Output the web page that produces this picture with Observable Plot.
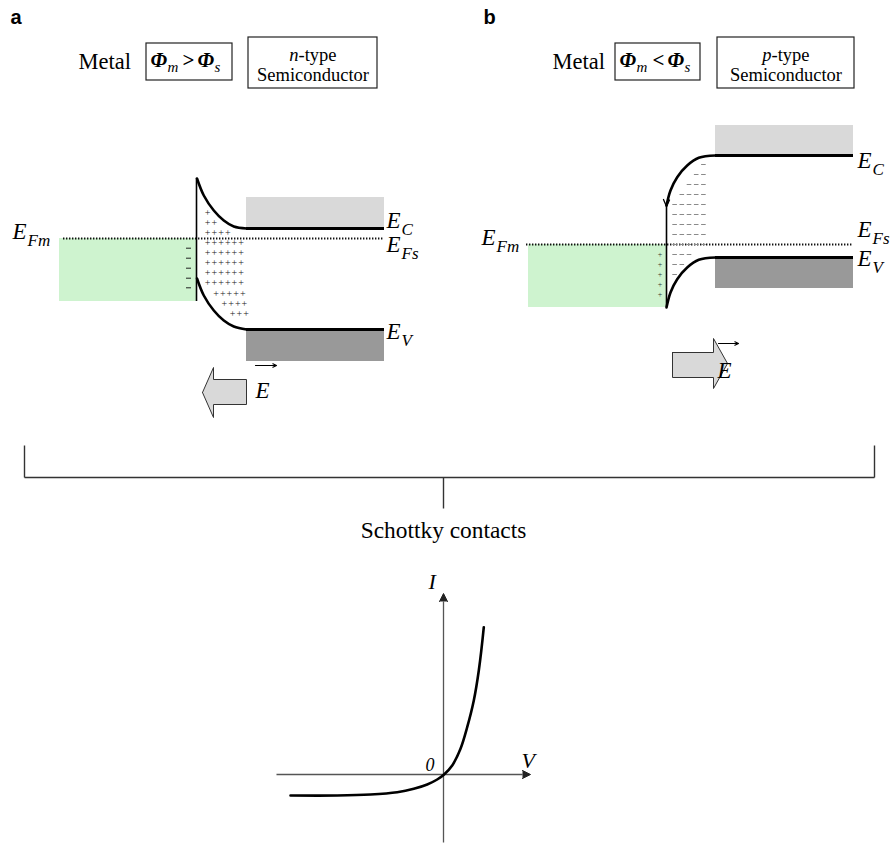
<!DOCTYPE html>
<html><head><meta charset="utf-8">
<script src="https://cdn.jsdelivr.net/npm/d3@7"></script>
<script src="https://cdn.jsdelivr.net/npm/@observablehq/plot@0.6"></script>
<style>body{margin:0;background:#fff} svg{display:block}</style>
</head><body><div id="chart"></div>
<script>
// ---------- data (diagram coordinates) ----------
const metalBands = [{x1:59,x2:196,y1:238,y2:301},{x1:528,x2:666,y1:244,y2:307}];
const conductionBands = [{x1:246,x2:384,y1:197,y2:228},{x1:715,x2:853,y1:125,y2:155}];
const valenceBands = [{x1:246,x2:384,y1:329,y2:361},{x1:715,x2:853,y1:257,y2:288}];
const fermiLevels = [{x1:63,x2:384,y:238},{x1:526,x2:853,y:244}];
const bandEdges = [{x1:246,x2:384,y:228},{x1:246,x2:384,y:329},{x1:715,x2:853,y:155},{x1:715,x2:853,y:257}];
const interfaces = [{x:196,y1:178,y2:301},{x:666,y1:205,y2:307}];

const curveA_C = [[196.5,178],[203.3,195],[213.3,210],[223.3,220],[233.3,226],[246,228]];
const curveA_V = [[196.5,278],[203.3,295],[213.3,310],[223.3,320],[233.3,326],[246,329]];
const curveB_C = [[666,205],[670,190],[676.7,176.7],[686.7,165],[698.3,157.3],[715,155]];
const curveB_V = [[666,307],[670,292],[676.7,278.7],[686.7,267],[698.3,259.3],[715,257]];
const hookB = [[663,199],[666,206],[669,199.5]];

// space charge, panel a (+ donors) : row y, first x, count
const plusRowY_A = [212.7,222.7,232.3,242.7,252.7,262.7,272.7,282.7,293.3,303.3,313.3];
const plusRowX_A = [204.3,204.3,204.3,204.3,204.3,204.3,204.3,204.3,212.7,221,229.3];
const plusRowN_A = [1,2,4,6,6,6,6,6,5,4,3];
const minusY_A = [247.7,257.7,267.7,277.7,287.3];
// space charge, panel b (- acceptors)
const dashRowY_B = [164,174,184,194,204,214,224,234,244,254,264,274];
const dashRowX_B = [701.1,693.9,686.7,679.5,672.3,672.3,672.3,672.3,672.3,672.3,672.3,672.3];
const dashRowN_B = [1,2,3,4,5,5,5,5,5,3,2,1];
const plusY_B = [254,264,274,284,294];

// block arrows for the field
const fieldArrowA = [[202,392],[213,367],[213,379],[246,379],[246,404],[213,404],[213,417],[202,392]];
const fieldArrowB = [[672,352],[713,352],[713,338],[727,363],[713,388],[713,377],[672,377],[672,352]];
const vecArrows = [{x1:255,x2:276,y:365},{x1:718,x2:738,y:343}];

// bracket
const bracket = [
  {x1:24,y1:445,x2:24,y2:477},{x1:874,y1:445,x2:874,y2:477},
  {x1:24,y1:477,x2:874,y2:477},{x1:443,y1:477,x2:443,y2:508}
];

// I-V characteristic
const ivCurve = [[290,795],[336.7,795],[370,794],[396.7,791.7],[413.3,788.3],[426.7,784],[436.7,779],
  [443.3,774.3],[451.7,765],[460,748.3],[466.7,726.7],[473.3,700],[478.3,670],[483.3,626.7]];
const axes = [{x1:276,y1:774,x2:522,y2:774},{x1:443,y1:842,x2:443,y2:601}];
const axisHeads = [
  {id:"v",x:522,y:770},{id:"v",x:530,y:774},{id:"v",x:522,y:778},
  {id:"i",x:439,y:601},{id:"i",x:443,y:593},{id:"i",x:447,y:601}
];

// text
const panelLetters = [{x:10,y:23,t:"a"},{x:483,y:23,t:"b"}];
const metalLabels = [{x:78,y:68},{x:552,y:68}];
const typeLetters = [{x:298,y:60,t:"n"},{x:771,y:60,t:"p"}];
const semiLabels = [{x:312.5,y:80},{x:785.5,y:80}];
const phiMain = [{x:150,y:66,t:"Φ"},{x:197,y:66,t:"Φ"},{x:619,y:66,t:"Φ"},{x:667,y:66,t:"Φ"}];
const phiOps = [{x:182,y:66,t:">"},{x:652,y:66,t:"<"}];
const phiSubs = [{x:167,y:71,t:"m"},{x:214,y:71,t:"s"},{x:636,y:71,t:"m"},{x:684,y:71,t:"s"}];
const energyLabels = [
  {x:12,y:238,sub:"Fm"},{x:386,y:227,sub:"C"},{x:386,y:251,sub:"Fs"},{x:386,y:338,sub:"V"},
  {x:481,y:244,sub:"Fm"},{x:857,y:167,sub:"C"},{x:857,y:236,sub:"Fs"},{x:857,y:265,sub:"V"}
];
const fieldLabels = [{x:255,y:397,t:"E"},{x:717,y:377,t:"E"}];
const ivLabels = [{x:428,y:588,t:"I"},{x:521,y:767,t:"V"}];
const originLabel = [{x:425,y:770,t:"0"}];
const caption = [{x:443,y:537,t:"Schottky contacts"}];

// ---------- helpers ----------
const pts = a => a.map(([x,y]) => ({x,y}));
const expandRows = (ys, xs, ns, step) => ys.flatMap((y,i) => d3.range(ns[i]).map(k => ({x: xs[i] + k*step, y})));
const serif = "'Liberation Serif', 'Times New Roman', Times, serif";
const sans = "'Liberation Sans', Arial, Helvetica, sans-serif";
const txt = (data, o) => Plot.text(data, {x:"x", y:"y", text: "t", textAnchor:"start", lineAnchor:"bottom",
  fill:"black", fontFamily: serif, ...o});

const plusesA = expandRows(plusRowY_A, plusRowX_A, plusRowN_A, 6.7);
const dashesB = expandRows(dashRowY_B, dashRowX_B, dashRowN_B, 7.2);

const chart = Plot.plot({
  width: 894, height: 843, margin: 0,
  x: {domain:[0,894], range:[0,894], axis:null},
  y: {domain:[0,843], range:[0,843], axis:null},
  style: {background:"white"},
  marks: [
    Plot.rect(metalBands, {x1:"x1",x2:"x2",y1:"y1",y2:"y2",fill:"#cef3cf"}),
    Plot.rect(conductionBands, {x1:"x1",x2:"x2",y1:"y1",y2:"y2",fill:"#d9d9d9"}),
    Plot.rect(valenceBands, {x1:"x1",x2:"x2",y1:"y1",y2:"y2",fill:"#999999"}),
    Plot.ruleY(fermiLevels, {y:"y",x1:"x1",x2:"x2",stroke:"#111",strokeWidth:2,strokeDasharray:"1.4 1.6"}),
    Plot.ruleY(bandEdges, {y:"y",x1:"x1",x2:"x2",stroke:"black",strokeWidth:3.2}),
    Plot.ruleX(interfaces, {x:"x",y1:"y1",y2:"y2",stroke:"black",strokeWidth:1.6}),
    ...[curveA_C, curveA_V, curveB_C, curveB_V].map(c =>
      Plot.line(pts(c), {x:"x",y:"y",curve:"catmull-rom",stroke:"black",strokeWidth:2.6})),
    Plot.line(pts(hookB), {x:"x",y:"y",stroke:"black",strokeWidth:1.3}),
    // space charges
    Plot.text(plusesA, {x:"x",y:"y",text:()=>"+",textAnchor:"start",fontSize:10,fill:"#222",fontFamily:serif}),
    Plot.ruleY(minusY_A, {y:d=>d, x1:()=>186, x2:()=>191, stroke:"#222", strokeWidth:1}),
    Plot.ruleY(dashesB, {y:"y", x1:"x", x2:d=>d.x+4.6, stroke:"#8a8a8a", strokeWidth:1}),
    Plot.text(plusY_B, {x:()=>659.5, y:d=>d, text:()=>"+", fontSize:8, fill:"#333", fontFamily:serif}),
    // field arrows
    Plot.line(pts(fieldArrowA), {x:"x",y:"y",fill:"#d9d9d9",stroke:"#333",strokeWidth:1}),
    Plot.line(pts(fieldArrowB), {x:"x",y:"y",fill:"#d9d9d9",stroke:"#333",strokeWidth:1}),
    Plot.arrow(vecArrows, {x1:"x1",x2:"x2",y1:"y",y2:"y",stroke:"black",strokeWidth:1.2,headLength:5,headAngle:50}),
    // boxes on top
    Plot.rect([{x1:146,x2:232,y1:43,y2:80},{x1:248,x2:377,y1:37,y2:88},{x1:615,x2:700,y1:43,y2:80},{x1:717,x2:854,y1:37,y2:88}],
      {x1:"x1",x2:"x2",y1:"y1",y2:"y2",fill:"none",stroke:"#222",strokeWidth:1.2}),
    // bracket
    Plot.link(bracket, {x1:"x1",y1:"y1",x2:"x2",y2:"y2",stroke:"#333",strokeWidth:1.4}),
    // I-V
    Plot.link(axes, {x1:"x1",y1:"y1",x2:"x2",y2:"y2",stroke:"#555",strokeWidth:1.3}),
    Plot.line(axisHeads, {x:"x",y:"y",z:"id",fill:"#222",stroke:"#222",strokeWidth:1}),
    Plot.line(pts(ivCurve), {x:"x",y:"y",curve:"catmull-rom",stroke:"black",strokeWidth:2.6}),
    // text
    txt(panelLetters, {fontFamily:sans, fontWeight:"bold", fontSize:20}),
    txt(metalLabels, {text:()=>"Metal", fontSize:22.5}),
    txt(typeLetters, {fontSize:18.5, fontStyle:"italic", textAnchor:"end"}),
    txt(typeLetters, {text:()=>"-type", fontSize:18.5}),
    txt(semiLabels, {text:()=>"Semiconductor", fontSize:18.5, textAnchor:"middle"}),
    txt(phiMain, {fontSize:21, fontStyle:"italic", fontWeight:"bold"}),
    txt(phiOps, {fontSize:21, fontWeight:"bold"}),
    txt(phiSubs, {fontSize:15, fontStyle:"italic"}),
    txt(energyLabels, {text:()=>"E", fontSize:23, fontStyle:"italic"}),
    txt(energyLabels, {x:d=>d.x+15, y:d=>d.y+7, text:"sub", fontSize:17, fontStyle:"italic"}),
    txt(fieldLabels, {fontSize:23, fontStyle:"italic"}),
    txt(ivLabels, {fontSize:22, fontStyle:"italic"}),
    txt(originLabel, {fontSize:18, fontStyle:"italic"}),
    txt(caption, {fontSize:23.4, textAnchor:"middle"})
  ]
});
document.getElementById("chart").appendChild(chart);
</script>
</body></html>
